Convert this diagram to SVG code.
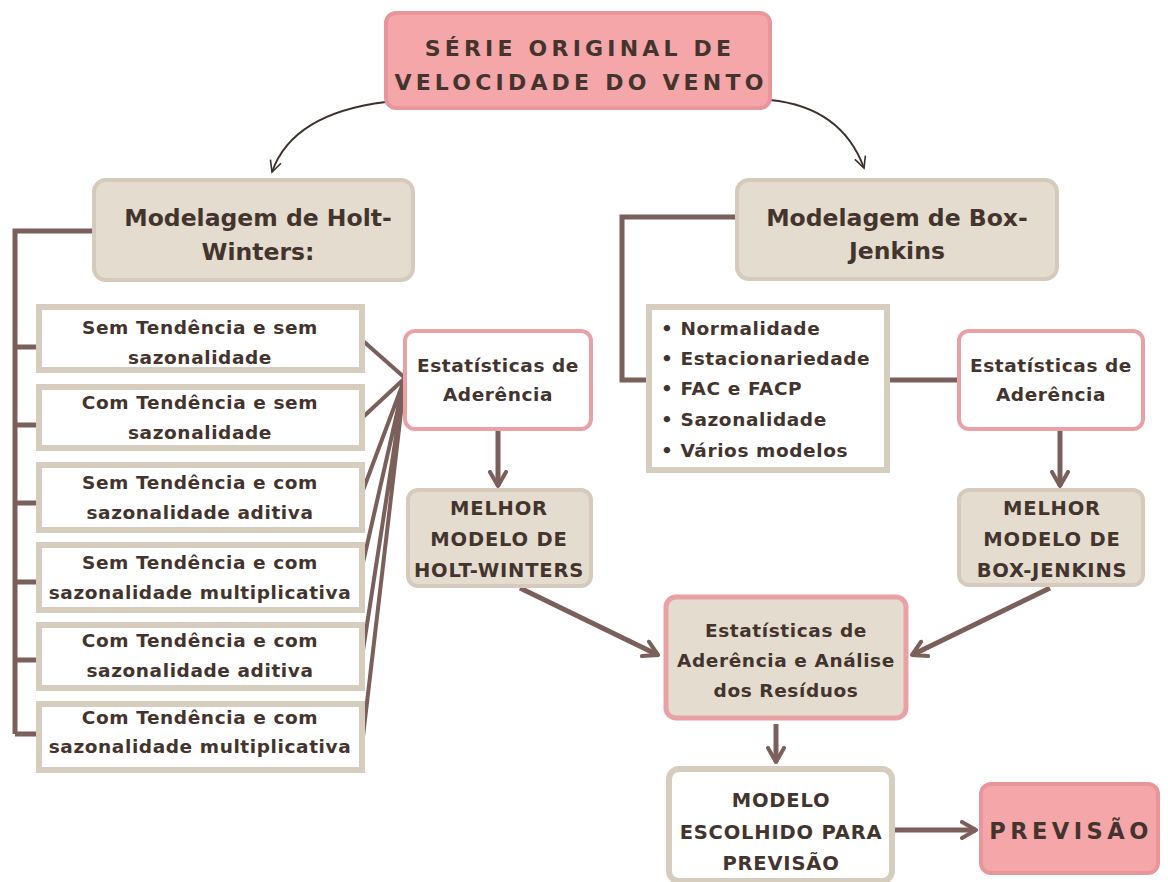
<svg xmlns="http://www.w3.org/2000/svg" width="1168" height="882" viewBox="0 0 1168 882">
<defs>
<style>
.t{font-family:"DejaVu Sans","Liberation Sans",sans-serif;font-weight:700;fill:#44342e;text-anchor:middle}
.s{font-size:18.5px;letter-spacing:0.6px}
.m{font-size:19.5px;letter-spacing:0.8px}
.pink{fill:#f4a6a9;stroke:#e8969b;stroke-width:4}
.beige{fill:#e4dccf;stroke:#d5cabc;stroke-width:4}
.wb{fill:#fff;stroke:#d6cdbf;stroke-width:6}
.wp{fill:#fff;stroke:#e9a1a6;stroke-width:4}
.bp{fill:#e4dccf;stroke:#e9a1a6;stroke-width:5}
.c{stroke:#7b5f5a;stroke-width:5;fill:none}
.c4{stroke:#7b5f5a;stroke-width:4;fill:none}
.thin{stroke:#3d302c;stroke-width:1.8;fill:none}
</style>
<marker id="ah" viewBox="0 0 10 10" refX="8" refY="5" markerWidth="4" markerHeight="4" orient="auto" markerUnits="strokeWidth">
<path d="M1,1 L8,5 L1,9" fill="none" stroke="#7b5f5a" stroke-width="2" stroke-linecap="round" stroke-linejoin="round"/>
</marker>
<marker id="ah2" viewBox="0 0 20 20" refX="18" refY="10" markerWidth="16" markerHeight="16" orient="auto" markerUnits="userSpaceOnUse">
<path d="M4,3 L18,10 L4,17" fill="none" stroke="#3d302c" stroke-width="2"/>
</marker>
</defs>
<rect width="1168" height="882" fill="#fff"/>
<g id="connectors">
<path class="thin" d="M386,102 C320,110 285,135 272,172" marker-end="url(#ah2)"/>
<path class="thin" d="M770,100 C820,105 850,130 864,168" marker-end="url(#ah2)"/>
<path class="c" d="M93,231 H15 V734"/>
<path class="c" d="M15,347 H37 M15,425 H37 M15,503 H37 M15,582 H37 M15,660 H37 M15,734 H37"/>
<path class="c4" d="M362,340 L405,378 M362,418 L405,378 M362,493 L405,378 M362,567 L405,378 M362,657 L405,378 M362,745 L405,378"/>
<path class="c" d="M737,217 H622 V380 H648"/>
<path class="c" d="M888,380 H958"/>
<path class="c" d="M498,430 V486" marker-end="url(#ah)"/>
<path class="c" d="M1060,430 V486" marker-end="url(#ah)"/>
<path class="c" d="M520,588 L658,655" marker-end="url(#ah)"/>
<path class="c" d="M1050,588 L912,655" marker-end="url(#ah)"/>
<path class="c" d="M776,724 V762" marker-end="url(#ah)"/>
<path class="c" d="M895,830 H976" marker-end="url(#ah)"/>
</g>
<g id="serie">
<rect class="pink" x="386" y="13" width="384" height="95" rx="10"/>
<text class="t" x="580" y="56" font-size="22" letter-spacing="4.2">SÉRIE ORIGINAL DE</text>
<text class="t" x="581" y="90" font-size="22" letter-spacing="4.2">VELOCIDADE DO VENTO</text>
</g>
<g id="holt">
<rect class="beige" x="94" y="180" width="319" height="100" rx="12"/>
<text class="t" x="258" y="226" font-size="23.5">Modelagem de Holt-</text>
<text class="t" x="258" y="260" font-size="23.5">Winters:</text>
</g>
<g id="box">
<rect class="beige" x="737" y="180" width="320" height="99" rx="12"/>
<text class="t" x="897" y="226" font-size="23.5">Modelagem de Box-</text>
<text class="t" x="897" y="259" font-size="23.5">Jenkins</text>
</g>
<g id="hw1">
<rect class="wb" x="39" y="307" width="323" height="63"/>
<text class="t s" x="200" y="334">Sem Tendência e sem</text>
<text class="t s" x="200" y="364">sazonalidade</text>
</g>
<g id="hw2">
<rect class="wb" x="39" y="387" width="323" height="61"/>
<text class="t s" x="200" y="409">Com Tendência e sem</text>
<text class="t s" x="200" y="439">sazonalidade</text>
</g>
<g id="hw3">
<rect class="wb" x="39" y="465" width="323" height="65"/>
<text class="t s" x="200" y="489">Sem Tendência e com</text>
<text class="t s" x="200" y="519">sazonalidade aditiva</text>
</g>
<g id="hw4">
<rect class="wb" x="39" y="545" width="323" height="65"/>
<text class="t s" x="200" y="569">Sem Tendência e com</text>
<text class="t s" x="200" y="599">sazonalidade multiplicativa</text>
</g>
<g id="hw5">
<rect class="wb" x="39" y="625" width="323" height="63"/>
<text class="t s" x="200" y="647">Com Tendência e com</text>
<text class="t s" x="200" y="677">sazonalidade aditiva</text>
</g>
<g id="hw6">
<rect class="wb" x="39" y="704" width="323" height="66"/>
<text class="t s" x="200" y="724">Com Tendência e com</text>
<text class="t s" x="200" y="753">sazonalidade multiplicativa</text>
</g>
<g id="estatL">
<rect class="wp" x="405" y="331" width="186" height="98" rx="10"/>
<text class="t s" x="498" y="372">Estatísticas de</text>
<text class="t s" x="498" y="401">Aderência</text>
</g>
<g id="bullets">
<rect class="wb" x="649" y="307" width="238" height="163"/>
<g class="t s" style="text-anchor:start">
<text x="661" y="335">• Normalidade</text>
<text x="661" y="365">• Estacionariedade</text>
<text x="661" y="395">• FAC e FACP</text>
<text x="661" y="426">• Sazonalidade</text>
<text x="661" y="457">• Vários modelos</text>
</g>
</g>
<g id="estatR">
<rect class="wp" x="959" y="331" width="184" height="98" rx="10"/>
<text class="t s" x="1051" y="372">Estatísticas de</text>
<text class="t s" x="1051" y="401">Aderência</text>
</g>
<g id="melhorHW">
<rect class="beige" x="408" y="490" width="183" height="96" rx="10"/>
<text class="t m" x="499" y="515">MELHOR</text>
<text class="t m" x="499" y="546">MODELO DE</text>
<text class="t m" x="499" y="577">HOLT-WINTERS</text>
</g>
<g id="melhorBJ">
<rect class="beige" x="959" y="490" width="184" height="95" rx="10"/>
<text class="t m" x="1052" y="515">MELHOR</text>
<text class="t m" x="1052" y="546">MODELO DE</text>
<text class="t m" x="1052" y="577">BOX-JENKINS</text>
</g>
<g id="residuos">
<rect class="bp" x="666" y="597" width="240" height="121" rx="10"/>
<text class="t s" x="786" y="637">Estatísticas de</text>
<text class="t s" x="786" y="667">Aderência e Análise</text>
<text class="t s" x="786" y="697">dos Resíduos</text>
</g>
<g id="escolhido">
<rect class="wb" x="669" y="769" width="223" height="112" rx="10"/>
<text class="t m" x="781" y="807">MODELO</text>
<text class="t m" x="781" y="839">ESCOLHIDO PARA</text>
<text class="t m" x="781" y="870">PREVISÃO</text>
</g>
<g id="previsao">
<rect class="pink" x="981" y="784" width="177" height="89" rx="10"/>
<text class="t" x="1071" y="839" font-size="22.5" letter-spacing="4.5">PREVISÃO</text>
</g>
</svg>
